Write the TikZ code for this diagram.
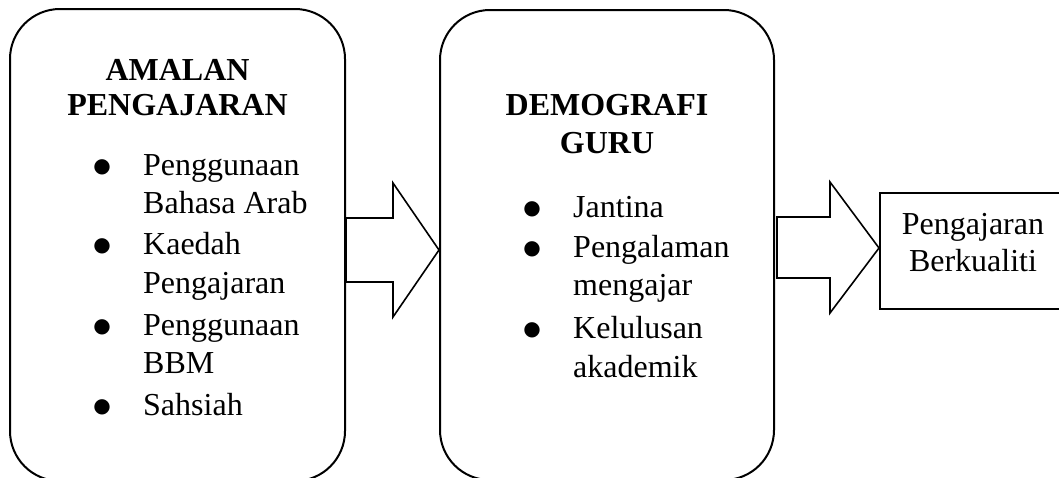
\documentclass[tikz,border=0pt]{standalone}
\usepackage{fontspec}
\setmainfont{Liberation Serif}
\newfontfamily\symfont{DejaVu Sans}
\begin{document}
\begin{tikzpicture}[x=1pt,y=-1pt,
  box/.style={draw,line width=2pt,rounded corners=50pt,inner sep=0pt},
  plainbox/.style={draw,line width=2pt,inner sep=0pt},
  blockarrow/.style={draw,line width=1.6pt,line join=miter},
  txt/.style={inner sep=0pt,anchor=base west,font=\fontsize{32}{38}\selectfont},
  ctxt/.style={inner sep=0pt,anchor=base,font=\fontsize{32}{38}\selectfont},
  ttl/.style={inner sep=0pt,anchor=base,font=\fontsize{32}{38}\selectfont\bfseries},
  bul/.style={inner sep=0pt,anchor=center,font=\symfont\fontsize{20}{20}\selectfont}]
\clip (0,0) rectangle (1059,477);
\useasboundingbox (0,0) rectangle (1059,477);
% boxes
\node[box,minimum width=335pt,minimum height=472pt] (left) at (177.5,245) {};
\node[box,minimum width=334pt,minimum height=470pt] (mid) at (607,245) {};
\node[plainbox,minimum width=188pt,minimum height=116pt] (right) at (974,251) {};
% left box text
\node[ttl] (t1a) at (177.5,80) {AMALAN};
\node[ttl] (t1b) at (177.5,115) {PENGAJARAN};
\node[bul] (b1) at (102,167) {●};
\node[txt] (l1) at (143,175) {Penggunaan};
\node[txt] (l2) at (143,213) {Bahasa Arab};
\node[bul] (b2) at (102,246) {●};
\node[txt] (l3) at (143,254) {Kaedah};
\node[txt] (l4) at (143,293) {Pengajaran};
\node[bul] (b3) at (102,327) {●};
\node[txt] (l5) at (143,335) {Penggunaan};
\node[txt] (l6) at (143,373) {BBM};
\node[bul] (b4) at (102,407) {●};
\node[txt] (l7) at (143,415) {Sahsiah};
% middle box text
\node[ttl] (t2a) at (607,115) {DEMOGRAFI};
\node[ttl] (t2b) at (607,153) {GURU};
\node[bul] (c1) at (532,209) {●};
\node[txt] (m1) at (573,217) {Jantina};
\node[bul] (c2) at (532,249) {●};
\node[txt] (m2) at (573,257) {Pengalaman};
\node[txt] (m3) at (573,295) {mengajar};
\node[bul] (c3) at (532,330) {●};
\node[txt] (m4) at (573,338) {Kelulusan};
\node[txt] (m5) at (573,377) {akademik};
% right box text
\node[ctxt] (r1) at (973,234) {Pengajaran};
\node[ctxt] (r2) at (973,271) {Berkualiti};
% block arrows
\draw[blockarrow] (left.east |- 0,218) -- (393,218) -- (393,183) -- (mid.west |- 0,250)
  -- (393,317) -- (393,282) -- (left.east |- 0,282) -- cycle;
\draw[blockarrow] (777,217) -- (830,217) -- (830,182) -- (right.west |- 0,248)
  -- (830,313) -- (830,278) -- (777,278) -- cycle;
\end{tikzpicture}
\end{document}
